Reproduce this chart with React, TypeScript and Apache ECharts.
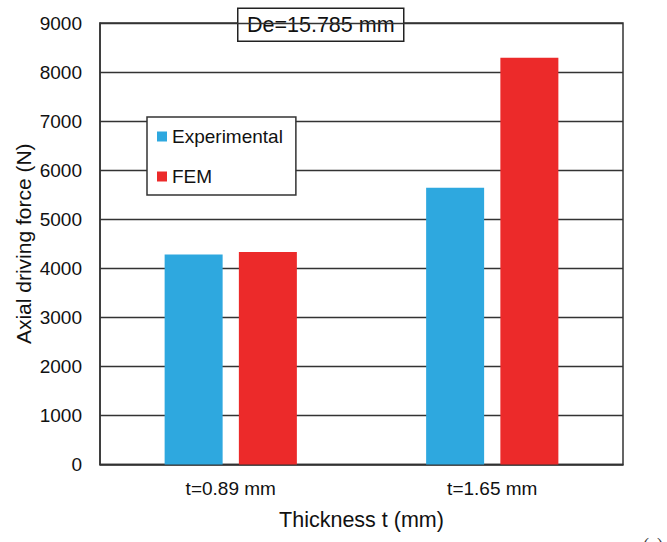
import React, { useEffect, useRef } from "react";
import * as echarts from "echarts";

const categories = ["t=0.89 mm", "t=1.65 mm"];
const experimental = [4280, 5640];
const fem = [4330, 8290];
const yTicks = [0, 1000, 2000, 3000, 4000, 5000, 6000, 7000, 8000, 9000];

const FONT = "'Liberation Sans', Arial, Helvetica, sans-serif";

export default function App() {
  const ref = useRef<HTMLDivElement>(null);

  useEffect(() => {
    if (!ref.current) return;
    const chart = echarts.init(ref.current, undefined, { renderer: "svg" });
    chart.setOption({
      animation: false,
      backgroundColor: "#fff",
      textStyle: { fontFamily: FONT, color: "#111" },
      grid: {
        left: 100,
        right: 44,
        top: 23,
        bottom: 77.5,
        containLabel: false,
        outerBoundsMode: "none",
        show: true,
        borderColor: "#333",
        borderWidth: 1.5,
        backgroundColor: "transparent",
      },
      legend: {
        orient: "vertical",
        left: 147,
        top: 117,
        icon: "rect",
        itemWidth: 10,
        itemHeight: 10,
        itemGap: 21,
        padding: [10, 13, 9, 10],
        backgroundColor: "#fff",
        borderColor: "#333",
        borderWidth: 1.5,
        textStyle: { fontFamily: FONT, fontSize: 19, color: "#111" },
        data: ["Experimental", "FEM"],
      },
      xAxis: {
        type: "category",
        data: categories,
        name: "Thickness t (mm)",
        nameLocation: "middle",
        nameGap: 44,
        nameMoveOverlap: false,
        nameTextStyle: { fontFamily: FONT, fontSize: 21.5, color: "#111" },
        axisLine: { show: true, lineStyle: { color: "#333", width: 1.5 } },
        axisTick: { show: false },
        axisLabel: { fontFamily: FONT, fontSize: 19, color: "#111", margin: 14 },
        splitLine: { show: false },
      },
      yAxis: {
        type: "value",
        min: yTicks[0],
        max: yTicks[yTicks.length - 1],
        interval: 1000,
        name: "Axial driving force (N)",
        nameLocation: "middle",
        nameGap: 66,
        nameMoveOverlap: false,
        nameTextStyle: { fontFamily: FONT, fontSize: 21, color: "#111" },
        axisLine: { show: true, lineStyle: { color: "#333", width: 1.5 } },
        axisTick: { show: false },
        axisLabel: {
          fontFamily: FONT,
          fontSize: 19,
          color: "#111",
          margin: 18,
          formatter: (v: number) => String(v),
        },
        splitLine: { show: true, lineStyle: { color: "#333", width: 1.3 } },
      },
      series: [
        {
          name: "Experimental",
          type: "bar",
          data: experimental,
          barWidth: 58,
          barGap: "28%",
          itemStyle: { color: "#2EA8DF" },
        },
        {
          name: "FEM",
          type: "bar",
          data: fem,
          barWidth: 58,
          itemStyle: { color: "#EC2A2A" },
        },
      ],
      graphic: [
        {
          type: "group",
          left: 237,
          top: 7.5,
          z: 10,
          children: [
            {
              type: "rect",
              shape: { x: 0, y: 0, width: 166, height: 33 },
              style: { fill: "#fff", stroke: "#222", lineWidth: 1.5 },
            },
            {
              type: "text",
              x: 83,
              y: 17,
              style: {
                text: "De=15.785 mm",
                fontFamily: FONT,
                fontSize: 21.5,
                fill: "#111",
                align: "center",
                verticalAlign: "middle",
              },
            },
          ],
        },
        {
          type: "text",
          left: 643,
          top: 536,
          style: {
            text: "(a)",
            fontFamily: "'Liberation Serif', 'Times New Roman', serif",
            fontSize: 18,
            fill: "#333",
          },
        },
      ],
    });
    return () => chart.dispose();
  }, []);

  return (
    <div
      ref={ref}
      style={{ width: 667, height: 542, position: "absolute", left: 0, top: 0 }}
    />
  );
}
